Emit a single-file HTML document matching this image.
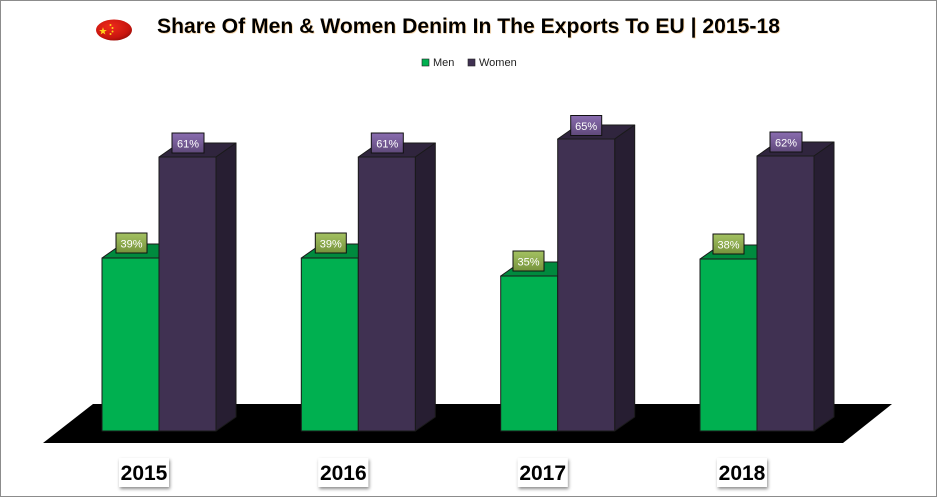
<!DOCTYPE html>
<html><head><meta charset="utf-8"><style>
html,body{margin:0;padding:0;background:#fff;}
svg{display:block;}
</style></head><body>
<svg width="938" height="498" viewBox="0 0 938 498" xmlns="http://www.w3.org/2000/svg" font-family="'Liberation Sans', sans-serif">
<defs>
<linearGradient id="gG" x1="0" y1="0" x2="0" y2="1"><stop offset="0" stop-color="#a4c262"/><stop offset="1" stop-color="#76933c"/></linearGradient>
<linearGradient id="pG" x1="0" y1="0" x2="0" y2="1"><stop offset="0" stop-color="#8a6db0"/><stop offset="1" stop-color="#5f497a"/></linearGradient>
<radialGradient id="flag" cx="0.4" cy="0.35" r="0.75"><stop offset="0" stop-color="#ee2a1c"/><stop offset="0.7" stop-color="#c8150e"/><stop offset="1" stop-color="#8a0a06"/></radialGradient>
<filter id="sh" x="-20%" y="-20%" width="150%" height="160%"><feDropShadow dx="1" dy="2" stdDeviation="1.5" flood-color="#000" flood-opacity="0.45"/></filter>
<filter id="tsh" x="-5%" y="-20%" width="110%" height="150%"><feDropShadow dx="0.7" dy="0.7" stdDeviation="0.3" flood-color="#e8a040" flood-opacity="0.5"/></filter>
</defs>
<rect x="0.5" y="0.5" width="936" height="496" fill="#fff" stroke="#8c8c8c" stroke-width="1"/>

<!-- flag -->
<ellipse cx="114" cy="30" rx="18" ry="10.5" fill="url(#flag)"/>
<text x="103" y="34.5" font-size="10" fill="#ffd21a" text-anchor="middle">★</text>
<circle cx="110.5" cy="25" r="1" fill="#ffd21a"/>
<circle cx="112.5" cy="28" r="1" fill="#ffd21a"/>
<circle cx="112.5" cy="31.5" r="1" fill="#ffd21a"/>
<circle cx="110.5" cy="34" r="1" fill="#ffd21a"/>

<!-- title -->
<text x="157" y="33" font-size="21" font-weight="bold" fill="#000" textLength="623" lengthAdjust="spacingAndGlyphs" filter="url(#tsh)">Share Of Men &amp; Women Denim In The Exports To EU | 2015-18</text>

<!-- legend -->
<rect x="422" y="59" width="7" height="7" fill="#00b050" stroke="#222" stroke-width="0.6"/>
<text x="433" y="66" font-size="11" fill="#222">Men</text>
<rect x="468" y="59" width="7" height="7" fill="#403152" stroke="#222" stroke-width="0.6"/>
<text x="479" y="66" font-size="11" fill="#222">Women</text>

<!-- floor -->
<polygon points="43,443 93,404 892,404 843,443" fill="#000"/>

<g stroke="#1a1a1a" stroke-width="1" stroke-linejoin="round">
<!-- 2015 -->
<polygon points="102,258 122,244 179,244 159,258" fill="#008a3e"/>
<rect x="102" y="258" width="57" height="173" fill="#00b050"/>
<polygon points="159,157 179,143 236,143 216,157" fill="#30253e"/>
<polygon points="216,157 236,143 236,417 216,431" fill="#271e32"/>
<rect x="159" y="157" width="57" height="274" fill="#403152"/>
<!-- 2016 -->
<polygon points="301.3,258 321.3,244 378.3,244 358.3,258" fill="#008a3e"/>
<rect x="301.3" y="258" width="57" height="173" fill="#00b050"/>
<polygon points="358.3,157 378.3,143 435.3,143 415.3,157" fill="#30253e"/>
<polygon points="415.3,157 435.3,143 435.3,417 415.3,431" fill="#271e32"/>
<rect x="358.3" y="157" width="57" height="274" fill="#403152"/>
<!-- 2017 -->
<polygon points="500.7,276 520.7,262 577.7,262 557.7,276" fill="#008a3e"/>
<rect x="500.7" y="276" width="57" height="155" fill="#00b050"/>
<polygon points="557.7,139 577.7,125 634.7,125 614.7,139" fill="#30253e"/>
<polygon points="614.7,139 634.7,125 634.7,417 614.7,431" fill="#271e32"/>
<rect x="557.7" y="139" width="57" height="292" fill="#403152"/>
<!-- 2018 -->
<polygon points="700,259 720,245 777,245 757,259" fill="#008a3e"/>
<rect x="700" y="259" width="57" height="172" fill="#00b050"/>
<polygon points="757,156 777,142 834,142 814,156" fill="#30253e"/>
<polygon points="814,156 834,142 834,417 814,431" fill="#271e32"/>
<rect x="757" y="156" width="57" height="275" fill="#403152"/>
</g>

<!-- data labels -->
<g font-size="11" fill="#fff" text-anchor="middle">
<rect x="116" y="233" width="31" height="20" fill="url(#gG)" stroke="#111" stroke-width="1"/>
<text x="131.5" y="247.5">39%</text>
<rect x="172" y="133" width="32" height="20" fill="url(#pG)" stroke="#111" stroke-width="1"/>
<text x="188" y="147.5">61%</text>

<rect x="315.3" y="233" width="31" height="20" fill="url(#gG)" stroke="#111" stroke-width="1"/>
<text x="330.8" y="247.5">39%</text>
<rect x="371.3" y="133" width="32" height="20" fill="url(#pG)" stroke="#111" stroke-width="1"/>
<text x="387.3" y="147.5">61%</text>

<rect x="513" y="251" width="31" height="20" fill="url(#gG)" stroke="#111" stroke-width="1"/>
<text x="528.5" y="265.5">35%</text>
<rect x="570.7" y="115.5" width="31" height="20" fill="url(#pG)" stroke="#111" stroke-width="1"/>
<text x="586.2" y="130">65%</text>

<rect x="713" y="234" width="31" height="20" fill="url(#gG)" stroke="#111" stroke-width="1"/>
<text x="728.5" y="248.5">38%</text>
<rect x="770" y="132" width="32" height="20" fill="url(#pG)" stroke="#111" stroke-width="1"/>
<text x="786" y="146.5">62%</text>
</g>

<!-- year labels -->
<g font-size="21" font-weight="bold" fill="#000" text-anchor="middle">
<rect x="119" y="458" width="50" height="29" fill="#fff" filter="url(#sh)"/>
<text x="144" y="480">2015</text>
<rect x="318.3" y="458" width="50" height="29" fill="#fff" filter="url(#sh)"/>
<text x="343.3" y="480">2016</text>
<rect x="517.7" y="458" width="50" height="29" fill="#fff" filter="url(#sh)"/>
<text x="542.7" y="480">2017</text>
<rect x="717" y="458" width="50" height="29" fill="#fff" filter="url(#sh)"/>
<text x="742" y="480">2018</text>
</g>
</svg>
</body></html>
